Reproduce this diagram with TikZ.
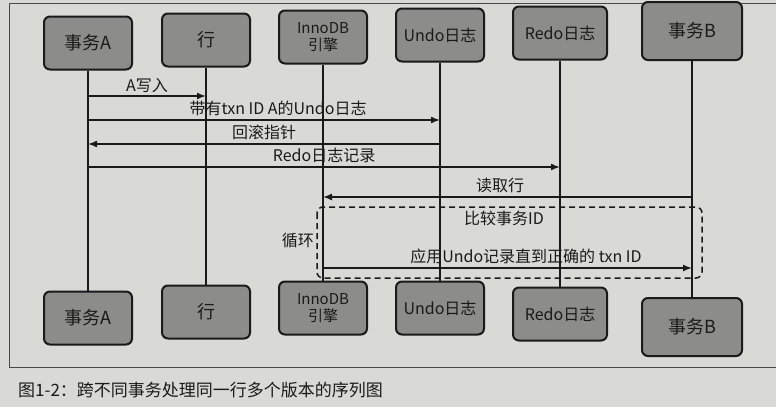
\documentclass[tikz,border=0pt]{standalone}
\usepackage{fontspec}
\setmainfont{Noto Sans CJK SC}
\usepackage{tikz}
\usetikzlibrary{arrows,arrows.meta,calc}
\definecolor{paper}{HTML}{D9D9D5}
\definecolor{boxgray}{HTML}{8C8C8A}
\definecolor{ink}{HTML}{1A1A1A}

\begin{document}
\begin{tikzpicture}[x=1pt, y=-1pt, font=\fontsize{16}{18}\selectfont, color=ink,
    actor/.style={draw=ink, line width=2pt, rounded corners=6pt, fill=boxgray,
        minimum width=88pt, minimum height=53pt, align=center, inner sep=0pt},
    bigname/.style={font=\fontsize{18}{20}\selectfont},
    smallname/.style={font=\fontsize{15}{17}\selectfont},
    life/.style={line width=1.5pt},
    msg/.style={line width=1.5pt, -{Latex[length=9pt, width=7pt]}},
    lbl/.style={above, inner sep=3pt},
    loopbox/.style={line width=1.5pt, dash pattern=on 6pt off 4pt, rounded corners=6pt}]
    % the paper and the frame
    \fill[paper] (0,0) rectangle (776,407);
    \useasboundingbox (0,0) rectangle (776,407);
    \draw[line width=1pt, draw=ink!80] (776,3) -- (9,3) -- (9,367) -- (776,367);

    % the participants at the top
    \node[actor, bigname] (topA) at (88,43) {事务A};
    \node[actor, bigname] (topRow) at (206,40) {行};
    \node[actor, smallname] (topInno) at (323,37) {InnoDB\\引擎};
    \node[actor] (topUndo) at (440,35) {Undo日志};
    \node[actor, minimum width=94pt] (topRedo) at (560,33) {Redo日志};
    \node[actor, bigname, minimum width=100pt, minimum height=58pt] (topB) at (692,31) {事务B};

    % the participants at the bottom
    \node[actor, bigname] (botA) at (88,318) {事务A};
    \node[actor, bigname] (botRow) at (206,312) {行};
    \node[actor, smallname] (botInno) at (323,308) {InnoDB\\引擎};
    \node[actor] (botUndo) at (440,308) {Undo日志};
    \node[actor, minimum width=94pt] (botRedo) at (560,314) {Redo日志};
    \node[actor, bigname, minimum width=100pt, minimum height=58pt] (botB) at (692,327) {事务B};

    % the lifelines
    \foreach \who in {A,Row,Inno,Undo,Redo,B}
        \draw[life] (top\who.south) -- (bot\who.north);

    % the heights of the messages
    \coordinate (m1) at (0,96);
    \coordinate (m2) at (0,120);
    \coordinate (m3) at (0,144);
    \coordinate (m4) at (0,167);
    \coordinate (m5) at (0,197);
    \coordinate (m6) at (0,268);

    % draw the messages
    \draw[msg] (topA |- m1) -- node[lbl] {A写入} (topRow |- m1);
    \draw[msg] (topA |- m2) -- node[lbl, pos=0.54] {带有txn ID A的Undo日志} (topUndo |- m2);
    \draw[msg] (topUndo |- m3) -- node[lbl, pos=0.5] {回滚指针} (topA |- m3);
    \draw[msg] (topA |- m4) -- node[lbl, pos=0.5] {Redo日志记录} (topRedo |- m4);
    \draw[msg] (topB |- m5) -- node[lbl, pos=0.52] {读取行} (topInno |- m5);

    % the loop
    \coordinate (loopNW) at (317,207);
    \coordinate (loopSE) at (702,278);
    \draw[loopbox] (loopNW) rectangle (loopSE);
    \node[anchor=east, inner sep=3pt] (loopLabel) at (loopNW |- 0,240) {循环};
    \node (compare) at (504,218) {比较事务ID};
    \draw[msg] (topInno |- m6) -- node[lbl, pos=0.55] {应用Undo记录直到正确的 txn ID} (topB |- m6);

    % the caption
    \node[anchor=west, inner sep=0pt, font=\fontsize{17}{19}\selectfont] (caption) at (18,390) {图1-2：跨不同事务处理同一行多个版本的序列图};
\end{tikzpicture}
\end{document}
